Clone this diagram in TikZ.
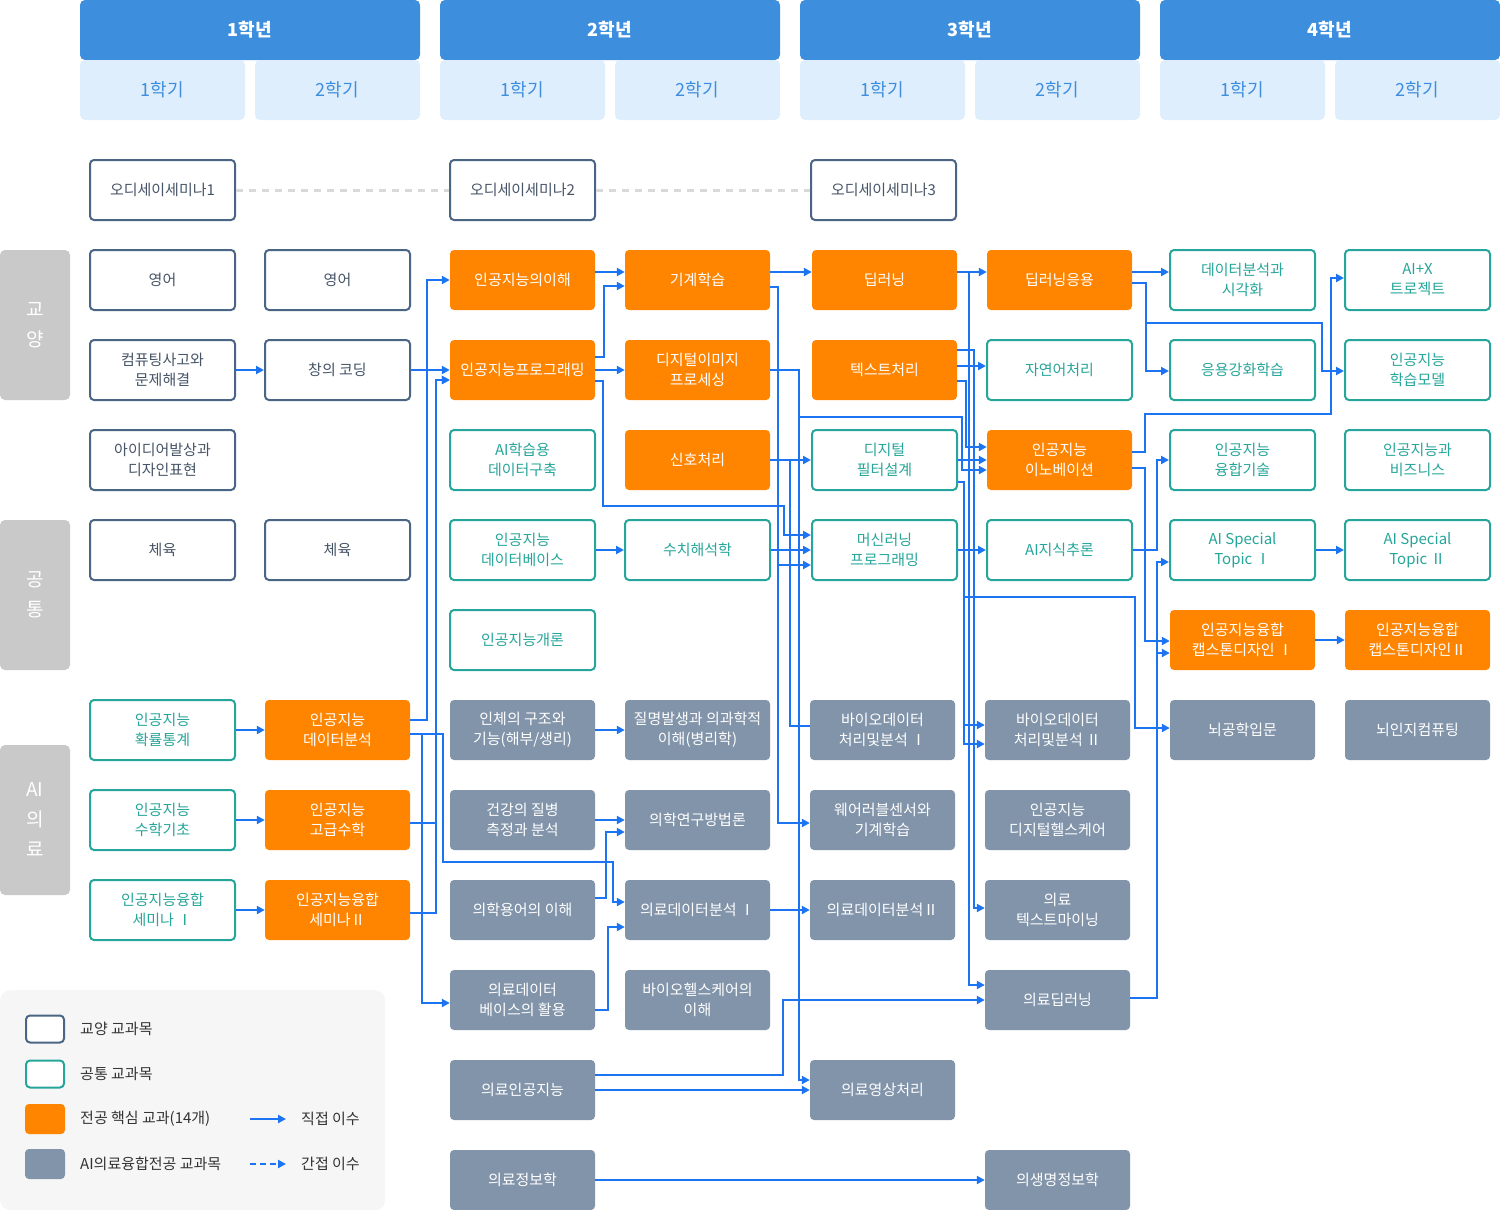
\documentclass[tikz,border=0pt]{standalone}
\usepackage{fontspec}
\setmainfont{Noto Sans CJK KR}
\usetikzlibrary{arrows.meta}
\definecolor{connblue}{HTML}{1C74F2}
\definecolor{gyborder}{HTML}{4B6584}
\definecolor{gytext}{HTML}{465467}
\definecolor{tealc}{HTML}{26A69A}
\definecolor{corec}{HTML}{FF8500}
\definecolor{medc}{HTML}{8294AA}
\definecolor{labelc}{HTML}{C9C9C9}
\definecolor{yearc}{HTML}{3E8EDE}
\definecolor{semc}{HTML}{DEEEFD}
\definecolor{semtext}{HTML}{3E8EDE}
\definecolor{dashc}{HTML}{D9D9D9}
\definecolor{legbg}{HTML}{F6F6F6}
\definecolor{legtext}{HTML}{333333}
\tikzset{
  crsbox/.style={rectangle, rounded corners=4pt, minimum width=145pt, minimum height=60pt,
    align=center, inner sep=0pt, font=\fontsize{15}{20}\selectfont},
  gybox/.style={crsbox, draw=gyborder, line width=2pt, fill=white, text=gytext},
  cmbox/.style={crsbox, draw=tealc, line width=2pt, fill=white, text=tealc},
  corebox/.style={crsbox, fill=corec, text=white},
  medbox/.style={crsbox, fill=medc, text=white},
  yearbox/.style={rectangle, rounded corners=5pt, minimum width=340pt, minimum height=60pt,
    fill=yearc, text=white, inner sep=0pt, font=\fontsize{18}{20}\selectfont\bfseries},
  sembox/.style={rectangle, rounded corners=5pt, minimum width=165pt, minimum height=60pt,
    fill=semc, text=semtext, inner sep=0pt, font=\fontsize{18}{20}\selectfont},
  catbox/.style={rectangle, rounded corners=5pt, minimum width=70pt, fill=labelc, text=white,
    align=center, inner sep=0pt, font=\fontsize{19}{30}\selectfont},
  conn/.style={draw=connblue, line width=2pt, -{Triangle[length=8pt,width=8pt]}},
  plainconn/.style={draw=connblue, line width=2pt},
  dashline/.style={draw=dashc, line width=3pt, dash pattern=on 7pt off 6pt},
  legsq/.style={rectangle, rounded corners=4pt, minimum width=38pt, minimum height=27pt, inner sep=0pt},
  legtxt/.style={anchor=west, text=legtext, inner sep=0pt, font=\fontsize{15}{18}\selectfont},
}
\begin{document}
\begin{tikzpicture}[x=1pt,y=-1pt]
\useasboundingbox (0,0) rectangle (1500,1210);
% header
\node[yearbox] (yr1) at (250,30) {1학년};
\node[yearbox] (yr2) at (610,30) {2학년};
\node[yearbox] (yr3) at (970,30) {3학년};
\node[yearbox] (yr4) at (1330,30) {4학년};
\node[sembox] (s11) at (162.5,90) {1학기};
\node[sembox] (s12) at (337.5,90) {2학기};
\node[sembox] (s21) at (522.5,90) {1학기};
\node[sembox] (s22) at (697.5,90) {2학기};
\node[sembox] (s31) at (882.5,90) {1학기};
\node[sembox] (s32) at (1057.5,90) {2학기};
\node[sembox] (s41) at (1242.5,90) {1학기};
\node[sembox] (s42) at (1417.5,90) {2학기};
% category labels
\node[catbox, minimum height=150pt] (cat1) at (35,325) {교\\양};
\node[catbox, minimum height=150pt] (cat2) at (35,595) {공\\통};
\node[catbox, minimum height=150pt] (cat3) at (35,820) {AI\\의\\료};
% row 0
\node[gybox] (a0) at (162.5,190) {오디세이세미나1};
\node[gybox] (c0) at (522.5,190) {오디세이세미나2};
\node[gybox] (e0) at (883.5,190) {오디세이세미나3};
% row 1
\node[gybox] (a1) at (162.5,280) {영어};
\node[gybox] (b1) at (337.5,280) {영어};
\node[corebox] (c1) at (522.5,280) {인공지능의이해};
\node[corebox] (d1) at (697.5,280) {기계학습};
\node[corebox] (e1) at (884.5,280) {딥러닝};
\node[corebox] (f1) at (1059.5,280) {딥러닝응용};
\node[cmbox] (g1) at (1242.5,280) {데이터분석과\\시각화};
\node[cmbox] (h1) at (1417.5,280) {AI+X\\트로젝트};
% row 2
\node[gybox] (a2) at (162.5,370) {컴퓨팅사고와\\문제해결};
\node[gybox] (b2) at (337.5,370) {창의 코딩};
\node[corebox] (c2) at (522.5,370) {인공지능프로그래밍};
\node[corebox] (d2) at (697.5,370) {디지털이미지\\프로세싱};
\node[corebox] (e2) at (884.5,370) {텍스트처리};
\node[cmbox] (f2) at (1059.5,370) {자연어처리};
\node[cmbox] (g2) at (1242.5,370) {응용강화학습};
\node[cmbox] (h2) at (1417.5,370) {인공지능\\학습모델};
% row 3
\node[gybox] (a3) at (162.5,460) {아이디어발상과\\디자인표현};
\node[cmbox] (c3) at (522.5,460) {AI학습용\\데이터구축};
\node[corebox] (d3) at (697.5,460) {신호처리};
\node[cmbox] (e3) at (884.5,460) {디지털\\필터설계};
\node[corebox] (f3) at (1059.5,460) {인공지능\\이노베이션};
\node[cmbox] (g3) at (1242.5,460) {인공지능\\융합기술};
\node[cmbox] (h3) at (1417.5,460) {인공지능과\\비즈니스};
% row 4
\node[gybox] (a4) at (162.5,550) {체육};
\node[gybox] (b4) at (337.5,550) {체육};
\node[cmbox] (c4) at (522.5,550) {인공지능\\데이터베이스};
\node[cmbox] (d4) at (697.5,550) {수치해석학};
\node[cmbox] (e4) at (884.5,550) {머신러닝\\프로그래밍};
\node[cmbox] (f4) at (1059.5,550) {AI지식추론};
\node[cmbox] (g4) at (1242.5,550) {AI Special\\Topic Ⅰ};
\node[cmbox] (h4) at (1417.5,550) {AI Special\\Topic Ⅱ};
% row 5
\node[cmbox] (c5) at (522.5,640) {인공지능개론};
\node[corebox] (g5) at (1242.5,640) {인공지능융합\\캡스톤디자인 Ⅰ};
\node[corebox] (h5) at (1417.5,640) {인공지능융합\\캡스톤디자인Ⅱ};
% row 6
\node[cmbox] (a6) at (162.5,730) {인공지능\\확률통계};
\node[corebox] (b6) at (337.5,730) {인공지능\\데이터분석};
\node[medbox] (c6) at (522.5,730) {인체의 구조와\\기능(해부/생리)};
\node[medbox] (d6) at (697.5,730) {질명발생과 의과학적\\이해(병리학)};
\node[medbox] (e6) at (882.5,730) {바이오데이터\\처리및분석 Ⅰ};
\node[medbox] (f6) at (1057.5,730) {바이오데이터\\처리및분석 Ⅱ};
\node[medbox] (g6) at (1242.5,730) {뇌공학입문};
\node[medbox] (h6) at (1417.5,730) {뇌인지컴퓨팅};
% row 7
\node[cmbox] (a7) at (162.5,820) {인공지능\\수학기초};
\node[corebox] (b7) at (337.5,820) {인공지능\\고급수학};
\node[medbox] (c7) at (522.5,820) {건강의 질병\\측정과 분석};
\node[medbox] (d7) at (697.5,820) {의학연구방법론};
\node[medbox] (e7) at (882.5,820) {웨어러블센서와\\기계학습};
\node[medbox] (f7) at (1057.5,820) {인공지능\\디지털헬스케어};
% row 8
\node[cmbox] (a8) at (162.5,910) {인공지능융합\\세미나 Ⅰ};
\node[corebox] (b8) at (337.5,910) {인공지능융합\\세미나Ⅱ};
\node[medbox] (c8) at (522.5,910) {의학용어의 이해};
\node[medbox] (d8) at (697.5,910) {의료데이터분석 Ⅰ};
\node[medbox] (e8) at (882.5,910) {의료데이터분석Ⅱ};
\node[medbox] (f8) at (1057.5,910) {의료\\텍스트마이닝};
% row 9
\node[medbox] (c9) at (522.5,1000) {의료데이터\\베이스의 활용};
\node[medbox] (d9) at (697.5,1000) {바이오헬스케어의\\이해};
\node[medbox] (f9) at (1057.5,1000) {의료딥러닝};
% row 10
\node[medbox] (c10) at (522.5,1090) {의료인공지능};
\node[medbox] (e10) at (882.5,1090) {의료영상처리};
% row 11
\node[medbox] (c11) at (522.5,1180) {의료정보학};
\node[medbox] (f11) at (1057.5,1180) {의생명정보학};
% dashed seminar links
\draw[dashline] (a0.east) -- (c0.west);
\draw[dashline] (c0.east) -- (e0.west);
% connectors
\draw[conn] (a2.east) -- (b2.west);
\draw[conn] (a6.east) -- (b6.west);
\draw[conn] (a7.east) -- (b7.west);
\draw[conn] (a8.east) -- (b8.west);
\draw[conn] (b2.east) -- (c2.west);
\draw[conn] ([yshift=10pt]b6.east) -| (427,280) -- (c1.west);
\draw[conn] ([yshift=-3pt]b7.east) -| (436,380) -- ([yshift=-10pt]c2.west);
\draw[conn] ([yshift=-3pt]b8.east) -| (436,380) -- ([yshift=-10pt]c2.west);
\draw[conn] ([yshift=-4pt]b6.east) -| (422,1003) -- ([yshift=-3pt]c9.west);
\draw[conn] ([yshift=-4pt]b6.east) -| (443,862) -| (613,902) -- ([yshift=8pt]d8.west);
\draw[conn] ([yshift=8pt]c1.east) -- ([yshift=8pt]d1.west);
\draw[conn] ([yshift=13pt]c2.east) -| (604,286) -- ([yshift=-6pt]d1.west);
\draw[conn] (c2.east) -- (d2.west);
\draw[conn] ([yshift=-11pt]c2.east) -| (603,506) -| (784,535) -- ([yshift=15pt]e4.west);
\draw[conn] ([yshift=8pt]d1.east) -- ([yshift=8pt]e1.west);
\draw[conn] ([yshift=-7pt]d1.east) -| (778,565) -- ([yshift=-15pt]e4.west);
\draw[conn] ([yshift=-7pt]d1.east) -| (778,823) -- ([yshift=-3pt]e7.west);
\draw[conn] (d2.east) -| (799,1080) -- ([yshift=10pt]e10.west);
\draw[conn] (d2.east) -| (799,417) -| (962,470) -- ([yshift=-10pt]f3.west);
\draw[conn] (d3.east) -- (e3.west);
\draw[plainconn] (d3.east) -| (790,726) -- ([yshift=4pt]e6.west);
\draw[conn] (c4.east) -- (d4.west);
\draw[conn] (d4.east) -- (e4.west);
\draw[conn] (c6.east) -- (d6.west);
\draw[conn] (c7.east) -- (d7.west);
\draw[conn] ([yshift=12pt]c8.east) -| (606,832) -- ([yshift=-12pt]d7.west);
\draw[conn] ([yshift=-10pt]c9.east) -| (608,927) -- ([yshift=-17pt]d8.west);
\draw[conn] ([yshift=15pt]c10.east) -| (783,1000) -- (f9.west);
\draw[conn] (c10.east) -- (e10.west);
\draw[conn] (c11.east) -- (f11.west);
\draw[conn] (d8.east) -- (e8.west);
\draw[conn] ([yshift=8pt]e1.east) -- ([yshift=8pt]f1.west);
\draw[conn] ([yshift=8pt]e1.east) -| (969,985) -- ([yshift=15pt]f9.west);
\draw[conn] ([yshift=20pt]e2.east) -| (974,908) -- ([yshift=2pt]f8.west);
\draw[conn] ([yshift=4pt]e2.east) -- ([yshift=4pt]f2.west);
\draw[conn] ([yshift=-11pt]e2.east) -| (966,447) -- ([yshift=13pt]f3.west);
\draw[conn] (e3.east) -- (f3.west);
\draw[conn] ([yshift=-22pt]e3.east) -| (964,597) -| (1135,728) -- ([yshift=2pt]g6.west);
\draw[conn] ([yshift=-22pt]e3.east) -| (964,725) -- ([yshift=5pt]f6.west);
\draw[conn] ([yshift=-22pt]e3.east) -| (964,744) -- ([yshift=-14pt]f6.west);
\draw[conn] (e4.east) -- (f4.west);
\draw[conn] ([yshift=8pt]f1.east) -- ([yshift=8pt]g1.west);
\draw[conn] ([yshift=-3pt]f1.east) -| (1146,371) -- ([yshift=-1pt]g2.west);
\draw[conn] ([yshift=-3pt]f1.east) -| (1146,323) -| (1322,371) -- ([yshift=-1pt]h2.west);
\draw[conn] ([yshift=8pt]f3.east) -| (1145,414) -| (1331,278) -- ([yshift=2pt]h1.west);
\draw[conn] ([yshift=-8pt]f3.east) -| (1145,641) -- ([yshift=-1pt]g5.west);
\draw[conn] (f4.east) -| (1157,460) -- (g3.west);
\draw[conn] ([yshift=2pt]f9.east) -| (1157,562) -- ([yshift=-12pt]g4.west);
\draw[conn] ([yshift=2pt]f9.east) -| (1157,653) -- ([yshift=-13pt]g5.west);
\draw[conn] (g4.east) -- (h4.west);
\draw[conn] (g5.east) -- (h5.west);
% legend
\node[rectangle, rounded corners=10pt, fill=legbg, minimum width=385pt, minimum height=220pt, anchor=north west, inner sep=0pt] (legend) at (0,990) {};
\node[legsq, draw=gyborder, line width=2pt, fill=white] (lg1) at (45,1029) {};
\node[legsq, draw=tealc, line width=2pt, fill=white] (lg2) at (45,1074) {};
\node[legsq, fill=corec, minimum width=40pt, minimum height=30pt] (lg3) at (45,1119) {};
\node[legsq, fill=medc, minimum width=40pt, minimum height=30pt] (lg4) at (45,1164) {};
\node[legtxt] (lt1) at (80,1029) {교양 교과목};
\node[legtxt] (lt2) at (80,1074) {공통 교과목};
\node[legtxt] (lt3) at (80,1119) {전공 핵심 교과(14개)};
\node[legtxt] (lt4) at (80,1164) {AI의료융합전공 교과목};
\coordinate (la1) at (250,1119);
\coordinate (la2) at (286,1119);
\coordinate (lb1) at (250,1164);
\coordinate (lb2) at (286,1164);
\draw[conn] (la1) -- (la2);
\draw[conn, dash pattern=on 6pt off 4pt] (lb1) -- (lb2);
\node[legtxt] (lt5) at (301,1119) {직접 이수};
\node[legtxt] (lt6) at (301,1164) {간접 이수};
\end{tikzpicture}
\end{document}
